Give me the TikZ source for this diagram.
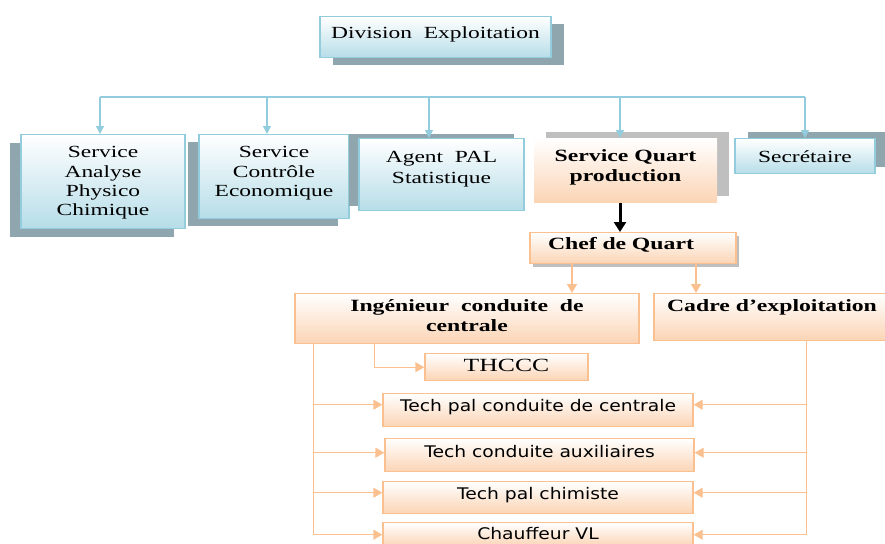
\documentclass[tikz,border=0pt]{standalone}
\usepackage{fontspec}
\setmainfont{Liberation Serif}[FakeStretch=1.38]
\newfontfamily\techfont{DejaVu Sans}[FakeStretch=1.17]
\usetikzlibrary{arrows.meta,shadows}
\definecolor{blueline}{HTML}{93CDDD}
\definecolor{bluefill}{HTML}{B6DDE8}
\definecolor{blueshadow}{HTML}{8FA6AE}
\definecolor{orangeline}{HTML}{FAC090}
\definecolor{orangefill}{HTML}{FBD4B4}
\definecolor{grayshadow}{HTML}{BFBFBF}
\tikzset{
  boxdim/.style args={#1:#2:#3}{
    minimum width=#1, text height=#2, text depth=#3, inner ysep=0pt
  },
  shadowat/.style args={#1:#2:#3}{
    drop shadow={shadow xshift=#1, shadow yshift=#2, fill=#3, opacity=1}
  },
  bluebox/.style={draw=blueline, line width=0.7pt, top color=white,
    bottom color=bluefill, align=center, anchor=north,
    font=\fontsize{8.5}{9.7}\selectfont},
  orangebox/.style={draw=orangeline, line width=0.7pt, top color=white,
    bottom color=orangefill, align=center, anchor=north,
    font=\fontsize{8.6}{9.8}\selectfont\bfseries},
  techbox/.style={orangebox, font=\fontsize{8}{9.6}\techfont},
  bluearrow/.style={draw=blueline, line width=0.6pt,
    -{Triangle[width=4pt,length=4pt]}},
  orangearrow/.style={draw=orangeline, line width=0.7pt,
    -{Triangle[width=5pt,length=4.5pt]}}
}

\begin{document}
\begin{tikzpicture}[x=0.5pt,y=-0.5pt]
\useasboundingbox (0,0) rectangle (885,543);
% upper level
\node[bluebox, boxdim=115.5pt:11pt:9.5pt, shadowat=6.25pt:-3.5pt:blueshadow]
  (div) at (435.5,16) {Division\ \ Exploitation};
\node[bluebox, boxdim=82pt:40.6pt:6.4pt, shadowat=-5.5pt:-4pt:blueshadow]
  (sap) at (103,134) {Service\\Analyse\\Physico\\Chimique};
\node[bluebox, boxdim=75pt:30.9pt:11.1pt, shadowat=-5.75pt:-3.75pt:blueshadow]
  (sce) at (274,134) {Service\\Contrôle\\Economique};
\node[bluebox, boxdim=82.5pt:22.5pt:13.5pt, shadowat=-5pt:2.5pt:blueshadow]
  (apal) at (441.5,138) {Agent\ \ PAL\\[0.8pt]Statistique};
\node[orangebox, draw=none, boxdim=91.5pt:21.3pt:10.7pt, shadowat=6pt:3.5pt:grayshadow]
  (sqp) at (625.5,138) {Service Quart\\production};
\node[bluebox, boxdim=70pt:12pt:5.5pt, shadowat=6.5pt:3.5pt:blueshadow]
  (sec) at (805,138) {Secrétaire};

\foreach \x/\n in {100/sap,267/sce,429/apal,620/sqp,805/sec}{
  \coordinate (drop\n) at (\x,97);
  \draw[bluearrow] (drop\n) -- (drop\n |- \n.north);
}
\draw[blueline, line width=0.6pt] (dropsap) -- (dropsec);

% quart production
\node[orangebox, text width=85pt, align=left, inner xsep=9pt, text height=8.5pt,
  text depth=7pt, inner ysep=0pt, shadowat=1.5pt:-1.5pt:grayshadow]
  (chef) at (633,232) {Chef de Quart};
\coordinate (qd) at ([xshift=-2.75pt]sqp.south);
\draw[line width=1.5pt, -{Triangle[width=6pt,length=5pt]}] (qd) -- (qd |- chef.north);

\node[orangebox, boxdim=172pt:18.9pt:6.1pt] (ing) at (467,293)
  {Ingénieur\ \ conduite\ \ de\\centrale};
\node[orangebox, boxdim=118pt:9pt:14.5pt] (cadre) at (772,293)
  {Cadre d’exploitation};
\coordinate (cl) at ([xshift=-30.5pt]chef.south);
\coordinate (cr) at ([xshift=31.5pt]chef.south);
\draw[orangearrow] (cl) -- (cl |- ing.north);
\draw[orangearrow] (cr) -- (cr |- cadre.north);

\node[orangebox, font=\fontsize{9.3}{11}\selectfont, boxdim=81.5pt:9pt:4.5pt]
  (thccc) at (506.5,353) {THCCC};
\node[techbox, boxdim=155pt:9pt:7.5pt] (tp1) at (538,393) {Tech pal conduite de centrale};
\node[techbox, boxdim=154.5pt:9.25pt:7.25pt] (tp2) at (539.5,438) {Tech conduite auxiliaires};
\node[techbox, boxdim=155pt:8.75pt:7.25pt] (tp3) at (538,481) {Tech pal chimiste};
\node[techbox, boxdim=155pt:8.5pt:3.5pt] (tp4) at (538,522) {Chauffeur VL};

\coordinate (tl) at ([xshift=40pt]ing.south west);
\draw[orangearrow] (tl) |- (thccc.west);
\coordinate (lrail) at ([xshift=9.5pt]ing.south west);
\coordinate (rrail) at ([xshift=76.5pt]cadre.south west);
\foreach \n/\s in {tp1/2.75pt,tp2/1.25pt,tp3/2.5pt,tp4/0pt}{
  \draw[orangearrow] (lrail) |- ([yshift=\s]\n.west);
  \draw[orangearrow] (rrail) |- ([yshift=\s]\n.east);
}
\end{tikzpicture}
\end{document}
